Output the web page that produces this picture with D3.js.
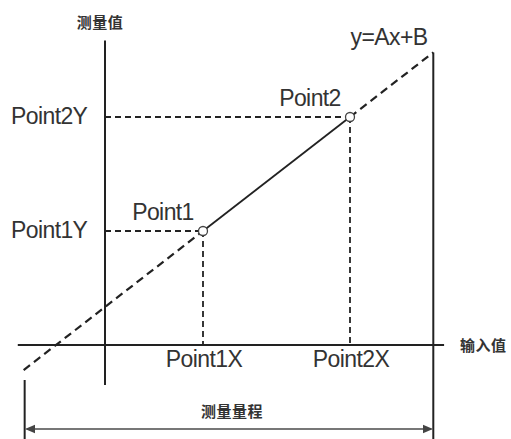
<!DOCTYPE html>
<html><head><meta charset="utf-8">
<script src="https://cdn.jsdelivr.net/npm/d3@7"></script>
<style>
html,body{margin:0;padding:0;background:#fff;}
svg{display:block;}
</style></head>
<body>
<svg id="c" width="511" height="439"></svg>
<script>
// ---- data ----
const pointNames = ["Point1", "Point2"];
const inputValues = [1, 2.5];          // Point1X, Point2X
const measuredValues = [1, 2];         // Point1Y, Point2Y
const xTickLabels = ["Point1X", "Point2X"];
const yTickLabels = ["Point1Y", "Point2Y"];
const xDomain = [-0.89, 3.46];         // horizontal axis extent
const yDomain = [-0.35, 2.67];         // vertical axis extent
const rangeEnds = [-0.83, 3.35];       // measuring range / extrapolated line ends
const equation = "y=Ax+B";
const xAxisTitle = "输入值";
const yAxisTitle = "测量值";
const rangeTitle = "测量量程";

const A = (measuredValues[1]-measuredValues[0])/(inputValues[1]-inputValues[0]);
const B = measuredValues[0] - A*inputValues[0];
const f = v => A*v + B;

const svg = d3.select("#c");
const x = d3.scaleLinear().domain([0, 1]).range([105, 203]);
const y = d3.scaleLinear().domain([0, 1]).range([345, 231]);

const dark = "#222";
const txt = "#333";
const latin = "Liberation Sans, Arial, sans-serif";
const cjk = "'Noto Sans CJK SC', sans-serif";

svg.append("defs").append("marker")
  .attr("id","ar").attr("viewBox","0 0 6 6").attr("refX",5).attr("refY",3)
  .attr("markerWidth",5).attr("markerHeight",5).attr("orient","auto-start-reverse")
  .append("path").attr("d","M0,0.5 L6,3 L0,5.5 Z").attr("fill","#444");

// axes
svg.append("line").attr("x1",x(xDomain[0])).attr("x2",x(xDomain[1]))
  .attr("y1",y(0)).attr("y2",y(0)).attr("stroke",dark).attr("stroke-width",2);
svg.append("line").attr("x1",x(0)).attr("x2",x(0))
  .attr("y1",y(yDomain[1])).attr("y2",y(yDomain[0])).attr("stroke",dark).attr("stroke-width",2);

// right bound vertical
svg.append("line").attr("x1",x(rangeEnds[1])).attr("x2",x(rangeEnds[1]))
  .attr("y1",y(f(rangeEnds[1]))).attr("y2",439).attr("stroke",dark).attr("stroke-width",2);
// left bound vertical
svg.append("line").attr("x1",x(rangeEnds[0])+1).attr("x2",x(rangeEnds[0])+1)
  .attr("y1",380).attr("y2",439).attr("stroke",dark).attr("stroke-width",2);
// range arrow
svg.append("line").attr("x1",x(rangeEnds[0])+3).attr("x2",x(rangeEnds[1])-2)
  .attr("y1",429).attr("y2",429).attr("stroke","#777").attr("stroke-width",2)
  .attr("marker-start","url(#ar)").attr("marker-end","url(#ar)");

// reference dashed lines
inputValues.forEach((vx,i)=>{
  const vy = measuredValues[i];
  svg.append("line").attr("x1",x(0)).attr("x2",x(vx)).attr("y1",y(vy)).attr("y2",y(vy))
    .attr("stroke",dark).attr("stroke-width",1.8).attr("stroke-dasharray","6,4");
  svg.append("line").attr("x1",x(vx)).attr("x2",x(vx)).attr("y1",y(vy)).attr("y2",y(0))
    .attr("stroke",dark).attr("stroke-width",1.8).attr("stroke-dasharray","6,4");
});

// extrapolated dashed line
svg.append("line").attr("x1",x(rangeEnds[0])).attr("y1",y(f(rangeEnds[0])))
  .attr("x2",x(inputValues[0])).attr("y2",y(measuredValues[0]))
  .attr("stroke",dark).attr("stroke-width",2.2).attr("stroke-dasharray","8,5");
svg.append("line").attr("x1",x(inputValues[1])).attr("y1",y(measuredValues[1]))
  .attr("x2",x(rangeEnds[1])).attr("y2",y(f(rangeEnds[1])))
  .attr("stroke",dark).attr("stroke-width",2.2).attr("stroke-dasharray","8,5");
// solid segment
svg.append("line").attr("x1",x(inputValues[0])).attr("y1",y(measuredValues[0]))
  .attr("x2",x(inputValues[1])).attr("y2",y(measuredValues[1]))
  .attr("stroke",dark).attr("stroke-width",1.8);

// points
svg.selectAll("circle.p").data(inputValues).enter().append("circle")
  .attr("cx",d=>x(d)).attr("cy",(d,i)=>y(measuredValues[i])).attr("r",4.5)
  .attr("fill","#fff").attr("stroke","#444").attr("stroke-width",1.3);

// labels
const T = (s,px,py,opt={}) => svg.append("text").text(s).attr("x",px).attr("y",py)
  .attr("fill",opt.fill||txt).attr("font-family",opt.ff||latin)
  .attr("font-size",opt.fs||23).attr("font-weight",opt.fw||"normal")
  .attr("text-anchor",opt.anchor||"start").attr("letter-spacing",opt.ls||"-0.6");

yTickLabels.forEach((s,i)=>T(s, 11, y(measuredValues[i])+7));
xTickLabels.forEach((s,i)=>T(s, x(inputValues[i])+1, 367, {anchor:"middle"}));
pointNames.forEach((s,i)=>T(s, x(inputValues[i])-40, y(measuredValues[i])-11, {anchor:"middle"}));
T(equation, 389, 45, {anchor:"middle"});
T(yAxisTitle, 100, 28, {ff:cjk, fs:15, fw:"bold", anchor:"middle", ls:"0.5"});
T(xAxisTitle, 460, 351, {ff:cjk, fs:15, fw:"bold", ls:"0.5"});
T(rangeTitle, 232, 417, {ff:cjk, fs:15, fw:"bold", anchor:"middle", ls:"0.5"});
</script>
</body></html>
